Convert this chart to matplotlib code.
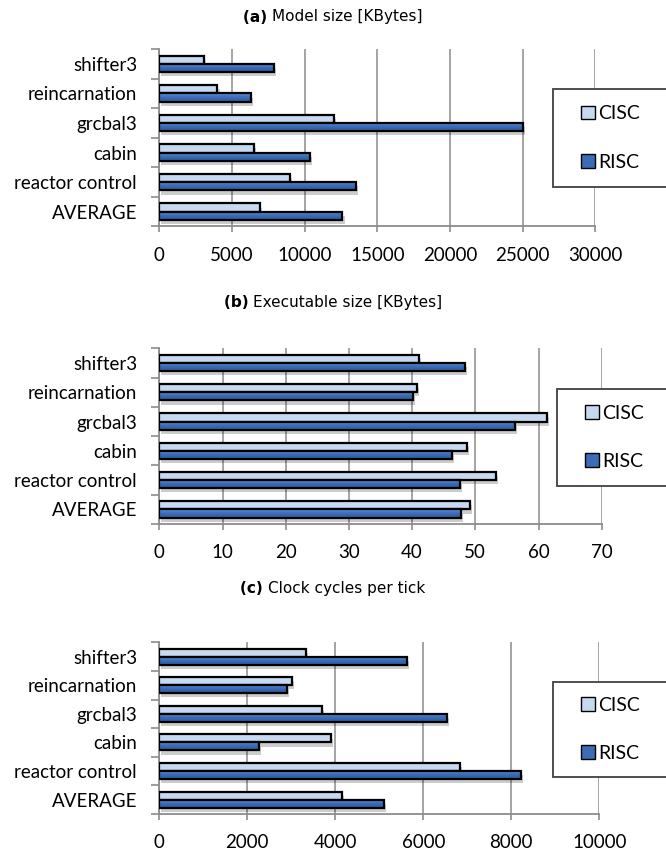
import matplotlib
matplotlib.use("Agg")
import matplotlib.pyplot as plt
import matplotlib.patheffects as pe
from matplotlib.patches import Rectangle, Patch
from matplotlib.colors import LinearSegmentedColormap
import numpy as np

categories = ["shifter3", "reincarnation", "grcbal3", "cabin", "reactor control", "AVERAGE"]
series = ["CISC", "RISC"]

model_cisc = [3100, 4000, 12000, 6500, 9000, 6900]
model_risc = [7900, 6300, 25000, 10350, 13500, 12600]

exe_cisc = [41.1, 40.7, 61.3, 48.7, 53.2, 49.1]
exe_risc = [48.4, 40.2, 56.3, 46.3, 47.5, 47.8]

clock_cisc = [3340, 3020, 3700, 3900, 6840, 4150]
clock_risc = [5630, 2900, 6545, 2260, 8220, 5110]

panels = [
    ("(a)", "Model size [KBytes]", model_cisc, model_risc, [0, 5000, 10000, 15000, 20000, 25000, 30000]),
    ("(b)", "Executable size [KBytes]", exe_cisc, exe_risc, [0, 10, 20, 30, 40, 50, 60, 70]),
    ("(c)", "Clock cycles per tick", clock_cisc, clock_risc, [0, 2000, 4000, 6000, 8000, 10000]),
]

W, H = 666, 855
fig = plt.figure(figsize=(W / 100, H / 100), dpi=100)

# axes rectangles in pixels: left, top, right, bottom
ax_px = [
    (159.3, 49.0, 595.3, 226.5),
    (159.3, 348.3, 601.7, 524.0),
    (159.3, 642.3, 599.3, 814.0),
]
title_y = [17, 302, 588]
legend_px = [
    (553, 89, 187),
    (557, 389, 486),
    (553, 682, 777),
]

light = "#c6d9f1"
dark = "#3a6db5"
grad_cmap = LinearSegmentedColormap.from_list("g", ["#5a8fd6", "#3a6db8", "#2c5a9c"])
grid_c = "#8c8c8c"
lab_font = "Lato"

shadow = [pe.SimplePatchShadow(offset=(1.5, -3.0), shadow_rgbFace="black", alpha=0.2), pe.Normal()]

renderer = fig.canvas.get_renderer()
grad = np.linspace(0, 1, 64).reshape(-1, 1)

for i, (tag, title, cisc, risc, ticks) in enumerate(panels):
    l, t, r, b = ax_px[i]
    ax = fig.add_axes([l / W, 1 - b / H, (r - l) / W, (b - t) / H])
    y = np.arange(len(categories))
    h = 0.28
    ax.barh(y - h / 2, cisc, height=h, color=light, edgecolor="black", linewidth=1.6,
            path_effects=shadow, zorder=3)
    bars = ax.barh(y + h / 2, risc, height=h, color=dark, edgecolor="none", linewidth=0,
                   path_effects=shadow, zorder=3)
    for yc, v, bar in zip(y + h / 2, risc, bars):
        im = ax.imshow(grad, extent=(0, v, yc + h / 2, yc - h / 2), origin="upper",
                       aspect="auto", cmap=grad_cmap, zorder=3.1, interpolation="bilinear")
        im.set_clip_path(bar)
    ax.barh(y + h / 2, risc, height=h, facecolor="none", edgecolor="black", linewidth=1.6, zorder=3.2)
    ax.set_ylim(len(categories) - 0.5, -0.5)
    ax.set_xlim(ticks[0], ticks[-1])
    ax.set_aspect("auto")
    ax.set_xticks(ticks)
    ax.set_xticklabels([str(v) for v in ticks], fontfamily=lab_font, fontsize=13.5)
    ax.set_yticks(y)
    ax.set_yticklabels(categories, fontfamily=lab_font, fontsize=13.5)
    ax.set_yticks(np.arange(len(categories) + 1) - 0.5, minor=True)
    ax.tick_params(axis="y", which="major", length=0, pad=16)
    ax.tick_params(axis="y", which="minor", length=5.5, color=grid_c, width=1.2, direction="out")
    ax.tick_params(axis="x", which="major", length=4.5, color=grid_c, width=1.2, direction="out", pad=10)
    ax.xaxis.grid(True, color=grid_c, linewidth=1.1, zorder=0)
    ax.set_axisbelow(True)
    for s in ["top", "right"]:
        ax.spines[s].set_visible(False)
    for s in ["left", "bottom"]:
        ax.spines[s].set_color(grid_c)
        ax.spines[s].set_linewidth(1.3)

    # title: bold tag + regular text, centered
    yy = 1 - title_y[i] / H
    t1 = fig.text(0, yy, tag + " ", fontsize=11, fontweight="bold", family="DejaVu Sans", va="center")
    t2 = fig.text(0, yy, title, fontsize=11, family="DejaVu Sans", va="center")
    w1 = t1.get_window_extent(renderer).width
    w2 = t2.get_window_extent(renderer).width
    x0 = 333 - (w1 + w2) / 2
    t1.set_x(x0 / W)
    t2.set_x((x0 + w1) / W)

    # legend box (extends beyond right edge)
    lx, lt, lb = legend_px[i]
    rect = Rectangle((lx / W, 1 - lb / H), (W + 20 - lx) / W, (lb - lt) / H,
                     transform=fig.transFigure, facecolor="white", edgecolor="#404040",
                     linewidth=1.3, zorder=5)
    fig.add_artist(rect)
    handles = [Patch(facecolor=light, edgecolor="black", linewidth=1.0),
               Patch(facecolor=dark, edgecolor="black", linewidth=1.0)]
    leg = fig.legend(handles, series, loc="center left",
                     bbox_to_anchor=((lx + 28) / W, 1 - (lt + lb) / 2 / H),
                     frameon=False, prop={"family": lab_font, "size": 14},
                     handlelength=0.7, handleheight=0.7, handletextpad=0.2,
                     labelspacing=1.6, borderpad=0, borderaxespad=0)
    leg.set_zorder(6)

fig.savefig("out.png", dpi=100)
